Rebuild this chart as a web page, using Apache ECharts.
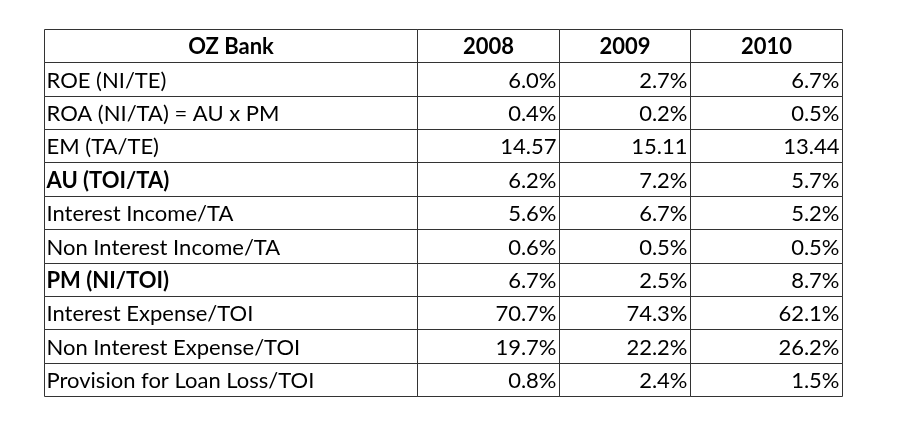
<!DOCTYPE html>
<html>
<head>
<meta charset="utf-8">
<script src="https://cdn.jsdelivr.net/npm/echarts@6/dist/echarts.min.js"></script>
<style>
	html, body { margin: 0; padding: 0; background: #fff; }
	#OzBankTable { width: 898px; height: 445px; }
</style>
</head>
<body>
<div id="OzBankTable"></div>
<script>
	const title = 'OZ Bank'
	const years = ['2008', '2009', '2010']
	const rowLabels = [
		'ROE (NI/TE)',
		'ROA (NI/TA) = AU x PM',
		'EM (TA/TE)',
		'AU (TOI/TA)',
		'Interest Income/TA',
		'Non Interest Income/TA',
		'PM (NI/TOI)',
		'Interest Expense/TOI',
		'Non Interest Expense/TOI',
		'Provision for Loan Loss/TOI'
	]
	const boldRows = ['AU (TOI/TA)', 'PM (NI/TOI)']
	// '%' rows show one decimal, '' rows are plain ratios
	const units = ['%', '%', '', '%', '%', '%', '%', '%', '%', '%']
	const v2008 = [6.0, 0.4, 14.57, 6.2, 5.6, 0.6, 6.7, 70.7, 19.7, 0.8]
	const v2009 = [2.7, 0.2, 15.11, 7.2, 6.7, 0.5, 2.5, 74.3, 22.2, 2.4]
	const v2010 = [6.7, 0.5, 13.44, 5.7, 5.2, 0.5, 8.7, 62.1, 26.2, 1.5]
	const values = [v2008, v2009, v2010]

	// column edges on the x value axis (first column is wide)
	const colEdges = [0, 373, 515, 646, 798]
	const fontFamily = 'Lato, "Open Sans", sans-serif'

	const fmt = (v, unit) => unit === '%' ? v.toFixed(1) + '%' : v.toFixed(2)

	const cells = []
	for (let r = 0; r <= rowLabels.length; r++) {
		for (let c = 0; c < colEdges.length - 1; c++) {
			cells.push([c, r])
		}
	}

	const cellText = (c, r) => {
		if (r === 0) return c === 0 ? title : years[c - 1]
		if (c === 0) return rowLabels[r - 1]
		return fmt(values[c - 1][r - 1], units[r - 1])
	}

	const renderItem = (params, api) => {
		const c = api.value(0)
		const r = api.value(1)
		const h = api.size([0, 1])[1]
		const p0 = api.coord([colEdges[c], r])
		const p1 = api.coord([colEdges[c + 1], r])
		const x0 = Math.round(p0[0]) + 0.5
		const x1 = Math.round(p1[0]) + 0.5
		const y0 = Math.round(p0[1] - h / 2) + 0.5
		const y1 = Math.round(p0[1] + h / 2) + 0.5
		let align, tx
		if (r === 0) {
			align = 'center'
			tx = (x0 + x1) / 2
		} else if (c === 0) {
			align = 'left'
			tx = x0 + 2
		} else {
			align = 'right'
			tx = x1 - 3
		}
		const bold = r === 0 || (c === 0 && boldRows.indexOf(rowLabels[r - 1]) >= 0)
		return {
			type: 'group',
			children: [
				{
					type: 'rect',
					shape: { x: x0, y: y0, width: x1 - x0, height: y1 - y0 },
					style: { fill: 'transparent', stroke: '#333', lineWidth: 1 }
				},
				{
					type: 'text',
					style: {
						text: cellText(c, r),
						x: tx,
						y: (y0 + y1) / 2 + 1,
						align: align,
						verticalAlign: 'middle',
						fill: '#000',
						font: (bold ? 'bold ' : '') + '22px ' + fontFamily
					}
				}
			]
		}
	}

	let chart = echarts.init(document.getElementById('OzBankTable'))
	const option = {
		animation: false,
		backgroundColor: '#fff',
		grid: {
			left: 44,
			top: 29,
			width: 798,
			height: 367
		},
		xAxis: {
			type: 'value',
			min: 0,
			max: 798,
			show: false
		},
		yAxis: {
			type: 'category',
			inverse: true,
			data: cells.filter(d => d[0] === 0).map(d => d[1]),
			show: false
		},
		series: [
			{
				type: 'custom',
				renderItem: renderItem,
				data: cells,
				silent: true
			}
		]
	}
	chart.setOption(option)
	window.onresize = () => {
		chart.resize()
	}
</script>
</body>
</html>
